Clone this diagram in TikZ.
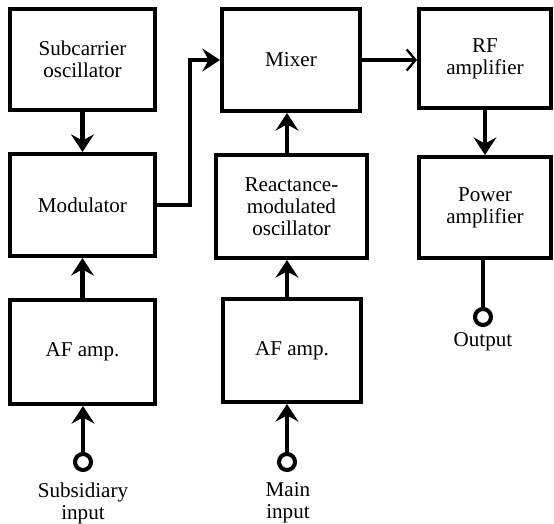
\documentclass[tikz,border=0pt]{standalone}
\usepackage{fontspec}
\setmainfont{Liberation Serif}
\usetikzlibrary{arrows.meta}

\begin{document}
\begin{tikzpicture}[>={Stealth[length=10pt,width=13pt,inset=3.5pt]},
    line width=2.3pt,
    blk/.style={draw,line width=2.3pt,align=center,inner sep=0pt,
      minimum width=2.9cm,minimum height=2.04cm,
      font=\rmfamily\fontsize{12}{12.5}\selectfont},
    term/.style={draw,circle,line width=2.3pt,minimum size=0.32cm,inner sep=0pt},
    lbl/.style={align=center,font=\rmfamily\fontsize{12}{12.5}\selectfont}]
    \useasboundingbox (0,0) rectangle (11.08,-10.48);
    % subsidiary chain
    \node[blk,minimum height=2.02cm] (sub) at (1.65,-1.19) {Subcarrier\\oscillator};
    \node[blk] (mod) at (1.65,-4.10) {Modulator};
    \node[blk,minimum height=2.08cm] (af1) at (1.65,-7.04) {AF amp.};
    % main chain
    \node[blk,minimum width=2.76cm] (mix) at (5.82,-1.20) {Mixer};
    \node[blk,minimum width=3.02cm,minimum height=2.06cm] (reac) at (5.83,-4.13)
      {Reactance-\\modulated\\oscillator};
    \node[blk,minimum width=2.76cm,minimum height=2.06cm] (af2) at (5.84,-7.01) {AF amp.};
    % output chain
    \node[blk,minimum width=2.64cm,minimum height=1.98cm] (rf) at (9.70,-1.17) {RF\\amplifier};
    \node[blk,minimum width=2.64cm,minimum height=2.02cm] (pow) at (9.70,-4.15) {Power\\amplifier};
    % terminals
    \node[term] (in1) at (1.66,-9.24) {};
    \node[term] (in2) at (5.74,-9.24) {};
    \node[term] (out) at (9.66,-6.34) {};
    \node[lbl] (lin1) at (1.66,-10.06) {Subsidiary\\input};
    \node[lbl] (lin2) at (5.76,-10.06) {Main\\input};
    \node[lbl] (lout) at (9.66,-6.84) {Output};
    % signal paths
    \draw[->] (sub) -- (mod);
    \draw[->] (af1) -- (mod);
    \draw[->] (in1) -- (in1 |- af1.south);
    \draw[->] (mod.east) -- ++(0.66,0) |- (mix.west);
    \draw[->] (in2) -- (in2 |- af2.south);
    \draw[->] (af2.north -| in2) -- (reac.south -| in2);
    \draw[->] (reac.north -| in2) -- (mix.south -| in2);
    \draw[-{Straight Barb[length=5pt,width=12pt,line width=1.3pt]}]
      (mix.east) -- (mix.east -| rf.west);
    \draw[->] (rf) -- (pow);
    \draw (out |- pow.south) -- (out);
  \end{tikzpicture}
\end{document}
